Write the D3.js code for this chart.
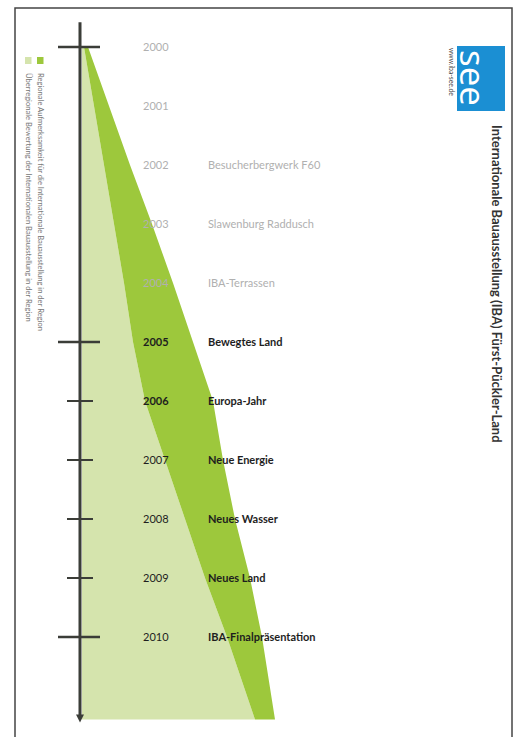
<!DOCTYPE html>
<html>
<head>
<meta charset="utf-8">
<script src="https://cdn.jsdelivr.net/npm/d3@7"></script>
<style>
  html, body { margin: 0; padding: 0; background: #fff; }
  svg { display: block; }
</style>
</head>
<body>
<svg id="chart" width="513" height="737"></svg>
<script>
// ---- data ----
const years = [2000, 2001, 2002, 2003, 2004, 2005, 2006, 2007, 2008, 2009, 2010];
const events = ["", "", "Besucherbergwerk F60", "Slawenburg Raddusch", "IBA-Terrassen",
  "Bewegtes Land", "Europa-Jahr", "Neue Energie", "Neues Wasser", "Neues Land", "IBA-Finalpräsentation"];
const majorTicks = [2000, 2005, 2010];
const minorTicks = [2006, 2007, 2008, 2009];
const timelineExtent = [1999.58, 2011.45];
const areaYears = [2000, 2001, 2002, 2003, 2004, 2005, 2006, 2007, 2008, 2009, 2010, 2011.4];
const regional = [1, 6, 11, 16, 21, 25.5, 31.5, 41.5, 51.5, 61.5, 72.5, 86.5];
const supraRegional = [2, 7.5, 13, 19, 24.5, 30, 34, 29, 25, 22.5, 17.5, 10];
const legendLabels = [
  "Überregionale Bewertung der Internationalen Bauausstellung in der Region",
  "Regionale Aufmerksamkeit für die Internationale Bauausstellung in der Region"
];
const title = "Internationale Bauausstellung (IBA) Fürst-Pückler-Land";
const logoText = "see";
const logoUrl = "www.iba-see.de";

// ---- setup ----
const svg = d3.select("#chart");
const lightGreen = "#d5e4ad";
const darkGreen = "#9dc83c";
const axisColor = "#3b3d38";

const y = d3.scaleLinear().domain([2000, 2010]).range([47, 637]);
const x = d3.scaleLinear().domain([0, 100]).range([82, 282]);

// frame
svg.append("rect").attr("x", 15).attr("y", 8).attr("width", 497).attr("height", 740)
  .attr("fill", "none").attr("stroke", "#444").attr("stroke-width", 1.5);

// ---- areas (stacked) ----
const table = areaYears.map((yr, i) => ({year: yr, regional: regional[i], supra: supraRegional[i]}));
const stack = d3.stack().keys(["regional", "supra"]);
const series = stack(table);
const area = d3.area()
  .y(d => y(d.data.year))
  .x0(d => x(d[0]))
  .x1(d => x(d[1]))
  .curve(d3.curveLinear);
const fills = [lightGreen, darkGreen];
svg.append("g").selectAll("path").data(series).join("path")
  .attr("d", area)
  .attr("fill", (d, i) => fills[i]);

// ---- axis ----
const axisX = 80;
const ax = svg.append("g");
ax.append("line")
  .attr("x1", axisX).attr("x2", axisX)
  .attr("y1", y(timelineExtent[0])).attr("y2", y(timelineExtent[1]) - 6)
  .attr("stroke", axisColor).attr("stroke-width", 3);
const yEnd = y(timelineExtent[1]);
ax.append("path")
  .attr("d", `M${axisX - 4},${yEnd - 8} L${axisX + 4},${yEnd - 8} L${axisX},${yEnd} Z`)
  .attr("fill", axisColor);
ax.selectAll("line.major").data(majorTicks).join("line")
  .attr("class", "major")
  .attr("x1", axisX - 22).attr("x2", axisX + 20)
  .attr("y1", d => y(d)).attr("y2", d => y(d))
  .attr("stroke", axisColor).attr("stroke-width", 2.5);
ax.selectAll("line.minor").data(minorTicks).join("line")
  .attr("class", "minor")
  .attr("x1", axisX - 13).attr("x2", axisX + 13)
  .attr("y1", d => y(d)).attr("y2", d => y(d))
  .attr("stroke", axisColor).attr("stroke-width", 2);

// ---- labels ----
const labels = svg.append("g").style("font-family", "Lato, 'Open Sans', sans-serif");
labels.selectAll("text.year").data(years).join("text")
  .attr("class", "year")
  .attr("x", 143).attr("y", d => y(d)).attr("dy", "0.35em")
  .attr("font-size", 11)
  .attr("font-weight", d => (d >= 2005 && d <= 2006) ? 700 : 400)
  .attr("fill", d => d < 2005 ? "#b0b0b0" : "#1e1e1e")
  .text(d => d);
labels.selectAll("text.event").data(years.map((yr, i) => ({yr, name: events[i]})).filter(d => d.name))
  .join("text")
  .attr("class", "event")
  .attr("x", 208).attr("y", d => y(d.yr)).attr("dy", "0.35em")
  .attr("font-size", 11)
  .attr("font-weight", d => d.yr >= 2005 ? 700 : 400)
  .attr("fill", d => d.yr < 2005 ? "#b0b0b0" : "#1e1e1e")
  .text(d => d.name);

// ---- legend ----
const legend = svg.append("g").style("font-family", "Lato, 'Open Sans', sans-serif");
legendLabels.forEach((txt, i) => {
  const lx = 25 + i * 12;
  legend.append("rect").attr("x", lx).attr("y", 57).attr("width", 6.5).attr("height", 7)
    .attr("fill", fills[i]);
  legend.append("text")
    .attr("transform", `translate(${lx + 0.5},73) rotate(90)`)
    .attr("font-size", 7.6).attr("fill", "#777")
    .text(txt);
});

// ---- title & logo ----
svg.append("text")
  .attr("transform", "translate(492,125) rotate(90)")
  .style("font-family", "Lato, 'Open Sans', sans-serif")
  .attr("font-size", 13).attr("font-weight", 700).attr("fill", "#333")
  .text(title);

svg.append("rect").attr("x", 457).attr("y", 46).attr("width", 48).attr("height", 65)
  .attr("fill", "#1b8fd3");
svg.append("text")
  .attr("transform", "translate(460,50) rotate(90)")
  .style("font-family", "'Open Sans', Lato, sans-serif")
  .attr("font-size", 35).attr("fill", "#fff")
  .text(logoText);
svg.append("text")
  .attr("transform", "translate(449,48) rotate(90)")
  .style("font-family", "Lato, sans-serif")
  .attr("font-size", 6.8).attr("fill", "#444")
  .text(logoUrl);
</script>
</body>
</html>
